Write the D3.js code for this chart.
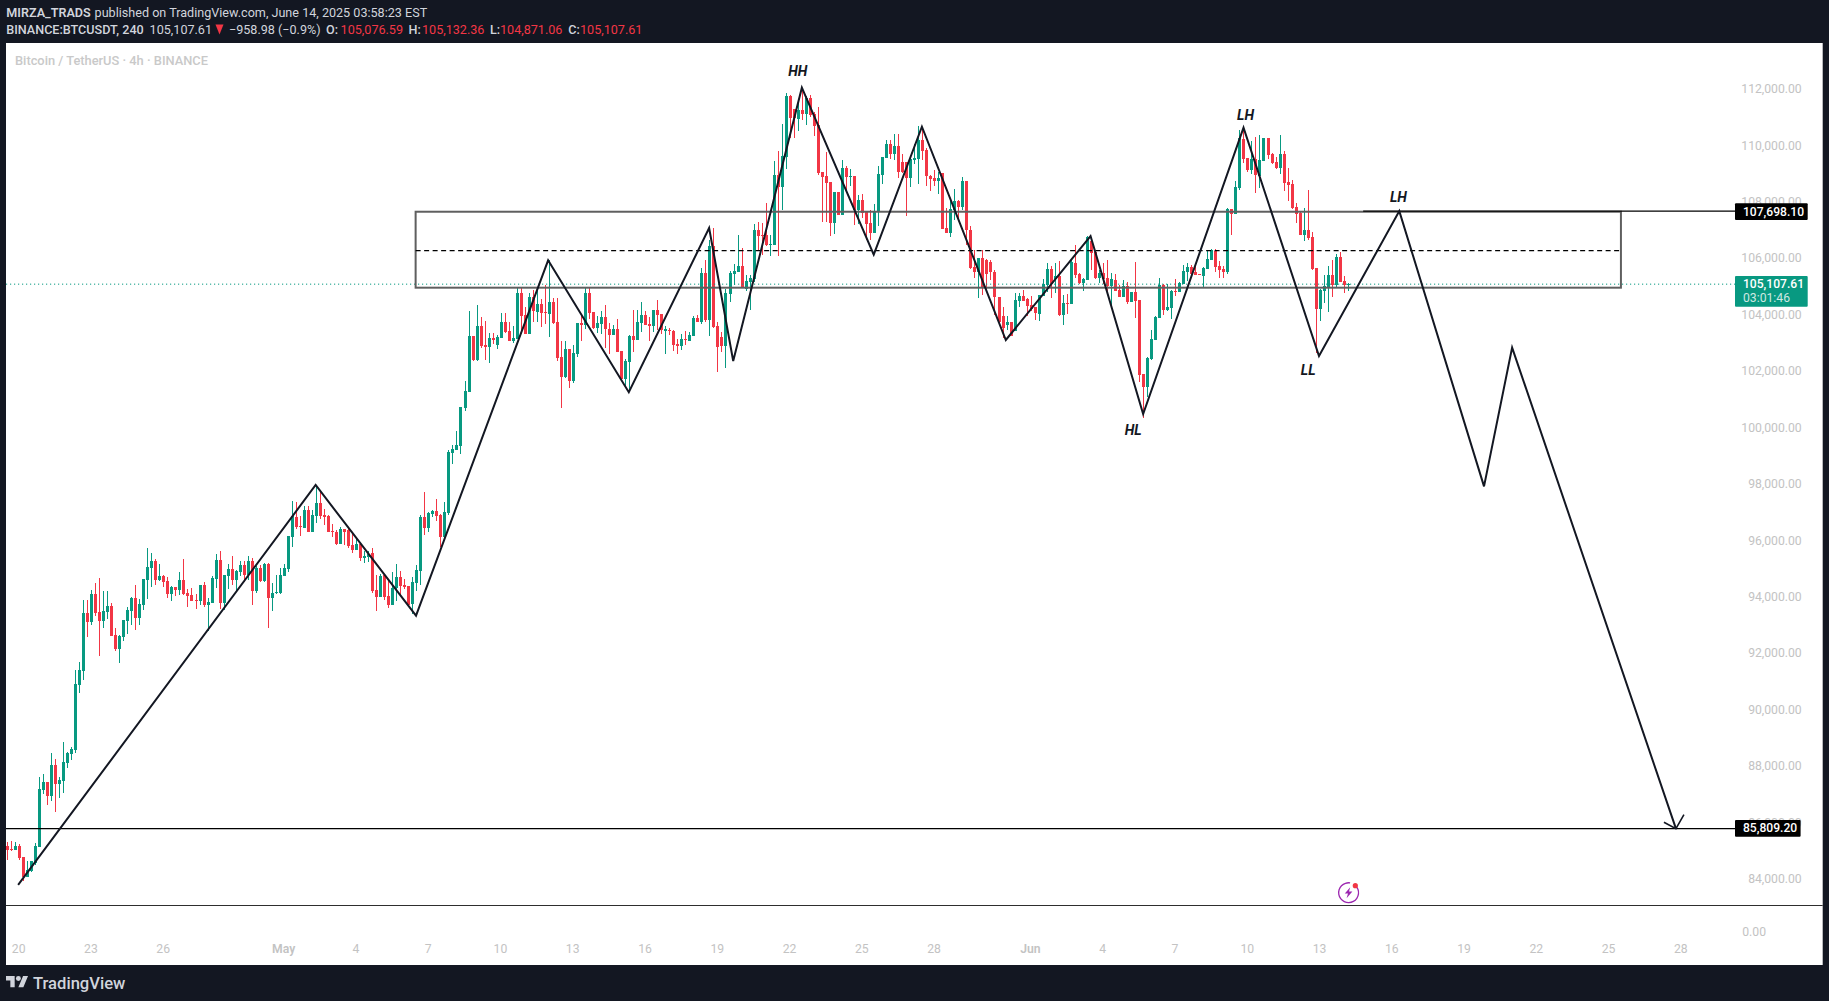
<!DOCTYPE html>
<html><head><meta charset="utf-8">
<script src="https://cdnjs.cloudflare.com/ajax/libs/d3/7.8.5/d3.min.js"></script>
<style>html,body{margin:0;padding:0;background:#131722;overflow:hidden}svg{display:block}text{font-family:Roboto,"Liberation Sans",sans-serif}</style>
</head><body><svg id="c" width="1829" height="1001"></svg>
<script>
const opens=[85200,85100,85060,85200,84810,84100,84320,84600,85170,87190,
87470,86970,88070,87400,87500,88140,88460,88600,90910,91400,
93460,93140,94130,93490,93170,93490,93700,92680,92180,92610,
93170,93530,93990,93280,93740,94630,95050,95300,94630,94770,
94590,94130,94380,94270,94630,94170,94090,93920,93880,94450,
93740,93810,94660,95330,93810,94770,95020,94630,94910,95160,
94800,95300,94240,95050,94590,95190,93990,94170,94170,94770,
95020,96150,96860,96540,96470,97110,96330,96890,97350,96930,
96890,96360,96330,95900,96430,96400,95870,95690,95900,95410,
95440,95580,94270,94020,94800,94060,93740,94340,94730,94450,
94410,93780,94520,94940,96860,96470,96960,97070,96930,96150,
97000,99130,99230,99380,100720,101290,103270,102420,103630,102950,
102880,103200,102950,103200,103770,103450,103100,103170,104800,104020,
103340,104650,104120,104410,104120,104050,104480,103770,102530,101820,
102810,101680,102640,103730,103660,104800,104120,103560,103700,103950,
103520,103310,103520,102740,101750,102350,103270,103130,103730,104020,
103700,103630,104190,104050,103450,103490,103450,102990,102920,103170,
103100,103270,103910,103770,105510,103840,106460,103630,103240,102920,
104760,105470,105540,105750,104940,105190,105290,107030,106850,106850,
106500,106500,108980,108550,109620,111780,111320,110960,111280,111140,
111710,111140,110750,109090,108940,108730,107280,108380,107560,109230,
108910,108940,107740,108090,107670,107280,106920,107670,108980,109580,
110080,109720,110010,109440,109440,108870,109510,109550,110220,109860,
108940,108870,108770,109050,107100,106920,107740,108060,107850,108770,
107030,105720,105540,106040,105970,105900,105540,104660,103980,103660,
103770,103450,104510,104690,104580,104370,104300,104050,104690,105080,
105650,105290,105400,104020,104440,104410,105860,105470,105150,105260,
106640,106250,105330,105510,105330,105050,105260,104900,104660,105050,
104480,104830,104550,101930,101470,102460,103130,103910,105080,104200,
104270,104870,104830,105120,105540,105720,105540,105470,105400,105650,
105970,106290,105750,105650,105540,107770,107600,108520,110250,109580,
109160,109550,108940,109470,110290,109720,109440,109230,109720,108730,
108660,107840,107630,106850,107030,106780,105680,104230,104870,105010,
105440,105080,106070,105220,105076.59];
const closes=[85060,85060,85200,84780,84100,84350,84670,85200,87220,87470,
86970,88070,87400,87540,88180,88500,88640,90940,91440,93460,
93140,94130,93460,93170,93530,93700,92640,92180,92640,93210,
93560,93990,93280,93780,94660,95090,95300,94630,94770,94550,
94130,94380,94270,94630,94130,94060,93880,93890,94450,93740,
93850,94700,95330,93810,94800,95020,94630,94940,95160,94800,
95300,94240,95050,94590,95190,93990,94170,94200,94800,95050,
96180,96890,96500,96500,97110,96330,96930,97350,96890,96860,
96330,96330,95900,96430,96330,95830,95690,95900,95410,95480,
95550,94240,94020,94770,94020,93740,94340,94730,94410,94380,
93740,94550,94980,96860,96470,97000,97070,96890,96150,97030,
99160,99270,99410,100760,101320,103270,102420,103630,102920,102880,
103200,103130,103240,103770,103410,103100,103200,104800,103980,103340,
104650,104160,104410,104090,104090,104480,103730,102490,101820,102810,
101680,102670,103730,103660,104800,104090,103560,103730,103950,103520,
103310,103520,102710,101750,102390,103270,103130,103770,104020,103660,
103630,104190,104020,103490,103520,103450,102950,102920,103170,103130,
103310,103910,103770,105510,103840,106460,103590,102880,102920,104800,
105510,105580,105750,104970,105220,105330,107030,106820,106820,106500,
106530,108980,108550,109650,111780,111000,111000,111280,111140,111710,
111100,110720,109050,108910,108700,107290,108380,107560,109230,108910,
108940,107740,108090,107630,107240,106920,107700,109010,109620,110080,
109720,110010,109090,109090,108870,109550,109580,110220,109830,108940,
108840,108770,108870,107070,106920,107770,108060,107850,108770,107030,
105680,105540,106040,104980,105470,105540,104660,103770,103560,103770,
103270,104550,104690,104510,104340,104230,104090,104730,105120,105650,
105120,105400,104020,104440,104410,105900,105440,105150,105290,106780,
106210,105330,105510,105290,105050,105290,104870,104660,105050,104480,
104830,104510,101890,101470,102490,103170,103950,105080,104200,104300,
104870,104830,105150,105580,105720,105470,105440,105440,105680,105990,
106320,105720,105610,105540,107770,107600,108550,110290,109550,109160,
109550,108980,109510,110290,109690,109400,109230,109720,108690,108620,
107810,107600,106850,107030,106750,105650,104230,104900,105050,105440,
105080,106070,105190,105080,105107.61];
const highs=[85340,85380,85340,85270,84820,84670,84680,85310,87650,87750,
87480,88500,88280,87650,88890,88510,88710,91440,91720,93920,
93920,94270,94510,94700,94240,94240,93810,92920,92680,93220,
93670,94020,94450,93950,94670,95760,95580,95370,95190,94800,
94730,94410,94390,94910,95370,94310,94340,94130,94460,94550,
93990,94770,95550,95650,94810,95190,95480,94980,95300,95300,
95480,95400,95120,95160,95230,95230,94520,94800,95050,95190,
96190,97420,97390,96890,97250,97250,97110,97990,97810,97140,
96930,96610,96400,96500,96440,96470,96290,96110,95940,95650,
95650,95760,94800,94840,94810,94590,94910,95190,94940,94660,
94420,94730,95160,96930,97740,97030,97110,97500,96960,97390,
99240,99410,99910,100770,101680,104160,103280,104370,103950,103800,
103380,103380,103310,104090,104090,103770,103630,104970,104970,104310,
104800,104900,104900,104580,105080,105970,104620,104620,103100,103100,
102820,102950,103740,104020,104970,104970,104130,103980,104160,104370,
103730,103660,103880,102750,102460,103310,104190,104190,104480,104160,
103950,104200,104550,104060,103630,103560,103490,103170,103340,103450,
103410,103980,104020,105680,105970,106670,107100,103770,103410,104940,
105580,105820,106850,106390,105430,105430,107240,107310,107270,107980,
106850,109480,109830,110790,111880,111810,111330,111640,112060,111780,
111810,111210,111390,109100,109790,108740,108390,108390,109510,109300,
109190,108950,108270,108310,107680,107740,107950,109300,109630,110220,
110220,110430,110430,109720,109450,109620,110080,110720,110640,109930,
108980,109160,109090,109060,107810,108160,108480,108090,108910,108780,
107170,106320,106050,106320,106000,105970,105610,104670,104300,103980,
103780,104800,104800,104900,104620,104690,104310,104740,105290,105860,
105750,105860,105930,104730,104760,105970,106500,105510,105330,106820,
106680,106260,105610,105860,105970,105510,105470,105080,105260,105190,
104840,105900,104560,101940,102530,103490,103980,105330,105120,105120,
104900,105290,105190,105790,105860,105790,105860,105480,105720,106320,
106360,106360,105930,105750,107810,107780,108770,110570,110640,109590,
110180,110320,110400,110300,110300,109760,109620,110400,109830,109230,
108800,107990,107670,107810,108450,106960,105690,104940,105440,105750,
105970,106180,106250,105400,105132.36];
const lows=[84700,85020,85050,84700,83960,84090,84280,84530,85160,87040,
86650,86800,86400,86900,87080,87960,88250,88500,90620,91080,
92610,93030,93350,91930,92920,93240,92640,92110,91680,92460,
92710,93030,92850,93030,93560,93950,94380,94450,94590,94380,
93990,93880,94060,94090,94090,93670,93870,93600,93740,93670,
92820,93800,94340,93600,93560,94310,94450,94200,94770,94550,
94630,93740,94170,94550,94550,92920,93530,94130,94130,94760,
94910,95790,96430,96180,96460,96320,96320,96650,96790,96570,
96320,96150,95870,95890,95870,95760,95580,95680,95300,95230,
95260,94170,93530,94010,93920,93630,93730,93880,94060,94310,
93730,93420,94240,94450,96220,96330,96860,96720,95790,96080,
96930,98740,99220,99090,100620,101280,102390,102390,102850,102420,
102320,102990,102810,103190,103380,103090,103030,103160,103340,103330,
103330,103770,103770,103590,103700,103240,103700,102390,100720,101780,
101430,101610,102530,103100,103520,103880,103520,103380,103340,102850,
102640,103300,102700,101740,101470,101360,102710,103120,103410,103650,
103100,103410,103490,103340,102640,103310,102740,102640,102780,102950,
103090,103260,103760,103700,103770,103270,103560,102000,102710,102140,
104480,105080,105530,104960,104870,104190,105190,106320,106140,106460,
106110,106490,106110,107740,109190,110290,110290,110540,110930,110750,
111030,110360,108980,107310,107310,106820,106890,107550,107550,108450,
108590,107210,107240,107460,106680,106680,106910,107170,108660,109570,
109550,109510,108870,109050,107530,108550,109370,108660,109510,108590,
108410,108590,108310,107060,106910,106780,107380,107350,107740,106500,
105650,105330,104620,104730,104900,105260,104020,103660,103200,103490,
103260,103440,104300,104500,103980,104160,103840,103810,104680,104830,
104620,104800,103980,103660,104050,104400,105330,105120,104870,105250,
105610,105290,105150,105120,104870,104300,104860,104650,104650,104410,
104470,103910,101640,100370,101110,102420,103120,103900,104020,104160,
103880,104690,104820,105110,105220,105460,105430,105430,105010,105640,
105960,105540,105330,105330,105470,106850,107590,108450,109390,109080,
109010,108340,108520,109460,109550,109370,109190,109010,108410,108060,
107770,107280,106840,106640,106680,105610,102670,103810,104440,104120,
104660,105010,105180,104800,104871.06];

const priceTicks=[112000,110000,108000,106000,104000,102000,100000,98000,96000,94000,92000,90000,88000,86000,84000];
const timeTickBars=[3,21,39,69,87,105,123,141,159,177,195,213,231,255,273,291,309,327,345,363,381,399,417];
const timeTickLabels=["20","23","26","May","4","7","10","13","16","19","22","25","28","Jun","4","7","10","13","16","19","22","25","28"];

const zigBars=[2.7,76.8,101.8,134.7,154.8,174.8,180.8,197.9,215.8,227.8,248.7,269.8,282.9,307.9,326.7,346.7,367.8,374.8,415.6];
const zigPrices=[83815,97990,93359,105954,101276,107099,102385,112070,106152,110689,103129,106815,100507,110653,102562,107698,97941,102860,85809.2];
const pivotNames=["HH","LH","HL","LL","LH"];
const pivotBars=[196.9,308.4,280.4,324,346.5];
const pivotPrices=[112663,111103,99929,102055,108197];

const boxBars=[101.7,401.9];
const boxPrices=[107675,104983];
const boxMidPrice=106300;
const rayStartBar=337.7;
const supportPrice=85809.2, resistPrice=107698.1, lastPrice=105107.61;

const svg=d3.select("#c");
const x=d3.scaleLinear().domain([0,417]).range([7.3,7.3+4.015*417]);
const y=d3.scaleLinear().domain([112000,84000]).range([89.7,89.7+56.43*14]);
const C={bg:"#131722",up:"#089981",dn:"#f23645",txt:"#d1d4dc",axis:"#c3c3c3",ink:"#131722"};

// panel
svg.append("rect").attr("width",1829).attr("height",1001).attr("fill",C.bg);
svg.append("rect").attr("x",6).attr("y",43).attr("width",1816.7).attr("height",922).attr("fill","#fff");
const defs=svg.append("defs");
defs.append("clipPath").attr("id","pane").append("rect").attr("x",6).attr("y",43).attr("width",1816.7).attr("height",862);
defs.append("clipPath").attr("id","lower").append("rect").attr("x",1700).attr("y",906).attr("width",120).attr("height",30);

// header
const head=svg.append("g").attr("font-size",12.6);
const row1=[["MIRZA_TRADS",6.3,600,C.txt],["published on TradingView.com, June 14, 2025 03:58:23 EST",94.6,400,C.txt]];
const row2=[["BINANCE:BTCUSDT, 240",6.3,500,C.txt],["105,107.61",149.6,400,C.txt],["\u2212958.98 (\u22120.9%)",229,400,C.txt],
["O:",326,500,C.txt],["105,076.59",340.6,400,C.dn],["H:",408.5,500,C.txt],["105,132.36",422,400,C.dn],
["L:",490,500,C.txt],["104,871.06",500,400,C.dn],["C:",568.3,500,C.txt],["105,107.61",580,400,C.dn]];
row1.forEach(r=>head.append("text").text(r[0]).attr("x",r[1]).attr("y",17).attr("font-weight",r[2]).attr("fill",r[3]));
row2.forEach(r=>head.append("text").text(r[0]).attr("x",r[1]).attr("y",34).attr("font-weight",r[2]).attr("fill",r[3]));
head.append("path").attr("d","M215.5 24.5h8l-4 10z").attr("fill",C.dn);
svg.append("text").text("Bitcoin / TetherUS \u00b7 4h \u00b7 BINANCE").attr("x",15).attr("y",65).attr("font-size",12.85).attr("font-weight",500).attr("fill","#c9c9c9");

// axes (under the price labels)
const yAxis=d3.axisRight(y).tickValues(priceTicks).tickSize(0).tickFormat(d3.format(",.2f"));
const gy=svg.append("g").attr("transform","translate(1801.7,-1)").call(yAxis);
gy.select(".domain").remove();
gy.selectAll("text").attr("x",0).attr("text-anchor","end").attr("fill",C.axis).attr("font-size",12.2).attr("font-family","Roboto,sans-serif");
const lowerPane=d3.scaleLinear().domain([0,1]).range([932,912]);
const gl=svg.append("g").attr("clip-path","url(#lower)").append("g").attr("transform","translate(1766,0)").call(d3.axisRight(lowerPane).tickValues([0]).tickSize(0).tickFormat(d3.format(".2f")));
gl.select(".domain").remove();
gl.selectAll("text").attr("x",0).attr("text-anchor","end").attr("fill",C.axis).attr("font-size",12.2).attr("font-family","Roboto,sans-serif");

const xAxis=d3.axisBottom(x).tickValues(timeTickBars).tickSize(0).tickFormat((d,i)=>timeTickLabels[i]);
const gx=svg.append("g").attr("transform","translate(-1.2,941)").call(xAxis);
gx.select(".domain").remove();
gx.selectAll("text").attr("fill",C.axis).attr("font-size",12.2).attr("font-family","Roboto,sans-serif")
  .attr("font-weight",(d,i)=>/[a-z]/.test(timeTickLabels[i])?600:400);

// candles
const chart=svg.append("g").attr("clip-path","url(#pane)");
const bars=d3.range(opens.length);
const col=i=>closes[i]>=opens[i]?C.up:C.dn;
chart.append("g").attr("shape-rendering","crispEdges").selectAll("rect").data(bars).join("rect")
  .attr("x",i=>Math.round(x(i)-0.5)).attr("width",1)
  .attr("y",i=>y(highs[i])).attr("height",i=>y(lows[i])-y(highs[i])).attr("fill",col);
chart.append("g").attr("shape-rendering","crispEdges").selectAll("rect").data(bars).join("rect")
  .attr("x",i=>Math.round(x(i)-0.5)-1).attr("width",3)
  .attr("y",i=>y(Math.max(opens[i],closes[i])))
  .attr("height",i=>Math.max(1,Math.abs(y(opens[i])-y(closes[i])))).attr("fill",col);

// separator
svg.append("line").attr("x1",6).attr("x2",1822.7).attr("y1",905.5).attr("y2",905.5).attr("stroke","#2e2e2e").attr("stroke-width",1);

// last price dotted
chart.append("line").attr("x1",6).attr("x2",1735).attr("y1",y(lastPrice)).attr("y2",y(lastPrice)).attr("stroke",C.up).attr("stroke-width",1).attr("stroke-dasharray","1.2 2.8");

// box + mid line
chart.append("rect").attr("x",x(boxBars[0])).attr("y",y(boxPrices[0])).attr("width",x(boxBars[1])-x(boxBars[0])).attr("height",y(boxPrices[1])-y(boxPrices[0])).attr("fill","none").attr("stroke","#5f5f5f").attr("stroke-width",2);
chart.append("line").attr("x1",x(boxBars[0])).attr("x2",x(boxBars[1])).attr("y1",y(boxMidPrice)).attr("y2",y(boxMidPrice)).attr("stroke","#000").attr("stroke-width",1.2).attr("stroke-dasharray","5 3.5");

// horizontal levels
chart.append("line").attr("x1",6).attr("x2",1735).attr("y1",y(supportPrice)).attr("y2",y(supportPrice)).attr("stroke","#000").attr("stroke-width",1.4);
chart.append("line").attr("x1",x(rayStartBar)).attr("x2",1735).attr("y1",y(resistPrice)).attr("y2",y(resistPrice)).attr("stroke","#000").attr("stroke-width",1.4);

// zigzag
const zig=d3.line().x(i=>x(zigBars[i])).y(i=>y(zigPrices[i]));
chart.append("path").attr("d",zig(d3.range(zigBars.length))).attr("fill","none").attr("stroke",C.ink).attr("stroke-width",2).attr("stroke-linejoin","miter");
const ax=x(zigBars[zigBars.length-1]), ay=y(zigPrices[zigPrices.length-1]);
chart.append("path").attr("d",`M${ax-12} ${ay-6.5}L${ax} ${ay}L${ax+8} ${ay-14}`).attr("fill","none").attr("stroke",C.ink).attr("stroke-width",1.6);

// pivot labels
chart.append("g").selectAll("text").data(pivotNames).join("text").text(d=>d)
  .attr("x",(d,i)=>x(pivotBars[i])).attr("y",(d,i)=>y(pivotPrices[i])+5)
  .attr("text-anchor","middle").attr("font-family","Liberation Sans,Arial,sans-serif").attr("font-style","italic").attr("font-weight",700).attr("font-size",14).attr("fill",C.ink);

// price labels
function tag(price,x0,x1,y0,y1,fill,text,text2){
  svg.append("rect").attr("x",x0).attr("y",y0).attr("width",x1-x0).attr("height",y1-y0).attr("rx",1).attr("fill",fill);
  svg.append("text").text(text).attr("x",x0+8).attr("y",y0+12.3).attr("fill","#fff").attr("font-size",12.1).attr("font-weight",500);
  if(text2) svg.append("text").text(text2).attr("x",x0+8).attr("y",y0+25.8).attr("fill","#cfe8e2").attr("font-size",12.2);
}
tag(resistPrice,1735,1807.7,203.3,220,"#000","107,698.10");
tag(lastPrice,1735,1807.7,276,306.7,C.up,"105,107.61","03:01:46");
tag(supportPrice,1735,1800.6,820,836.7,"#000","85,809.20");

// lightning badge
const b=svg.append("g").attr("transform","translate(1348.6,892.7)");
b.append("path").attr("d",d3.arc()({innerRadius:9.3,outerRadius:10.6,startAngle:0.75,endAngle:2*Math.PI+0.15})).attr("fill","#9c27b0");
b.append("path").attr("d","M1.6 -5.5L-3.8 0.9H-0.6L-2 5.5L3.8 -1.1H0.4Z").attr("fill","#9c27b0");
b.append("circle").attr("cx",6.7).attr("cy",-7).attr("r",2.6).attr("fill",C.dn);

// logo
const logo=svg.append("g").attr("fill",C.txt);
const lg=logo.append("g").attr("transform","translate(6,973.6) scale(0.62)");
lg.append("path").attr("d","M14 22H7V11H0V4h14v18zM28 22h-8l7.5-18h8L28 22z");
lg.append("circle").attr("cx",20).attr("cy",8).attr("r",4);
logo.append("text").text("TradingView").attr("x",33).attr("y",988.5).attr("font-size",16.6).attr("font-weight",500).attr("font-family","Inter,Roboto,sans-serif");
</script></body></html>
